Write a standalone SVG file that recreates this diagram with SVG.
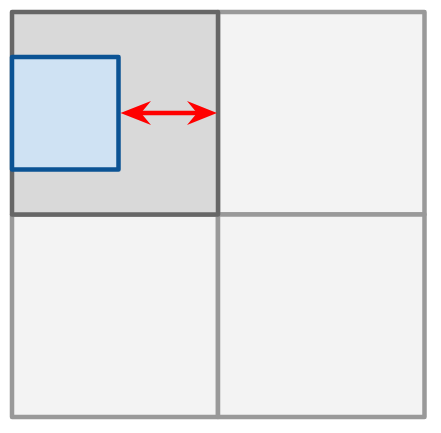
<svg xmlns="http://www.w3.org/2000/svg" width="441" height="433" viewBox="0 0 441 433">
<style>
.cell{fill:#f3f3f3;stroke:#999999;stroke-width:4.5;stroke-linejoin:round}
.active{fill:#d9d9d9;stroke:#666666;stroke-width:4.5;stroke-linejoin:round}
.box{fill:#cfe2f3;stroke:#0b5394;stroke-width:4.5;stroke-linejoin:round}
.link{stroke:#ff0000;stroke-width:4.5;fill:none}
.head{fill:#ff0000}
</style>
<rect width="441" height="433" fill="#ffffff"/>
<g id="cell-tr"><rect class="cell" x="218" y="12" width="206.5" height="202.5"/></g>
<g id="cell-bl"><rect class="cell" x="12" y="214.5" width="206" height="202.5"/></g>
<g id="cell-br"><rect class="cell" x="218" y="214.5" width="206.5" height="202.5"/></g>
<g id="cell-tl"><rect class="active" x="12" y="12" width="206" height="202.5"/></g>
<g id="box"><rect class="box" x="12" y="57" width="106.5" height="112.5"/></g>
<g id="connectors">
<line class="link" x1="138" y1="113" x2="200" y2="113"/>
<polygon class="head" points="120.5,113 151,101 141,113 151,125"/>
<polygon class="head" points="217,113 187,101 197,113 187,125"/>
</g>
</svg>
